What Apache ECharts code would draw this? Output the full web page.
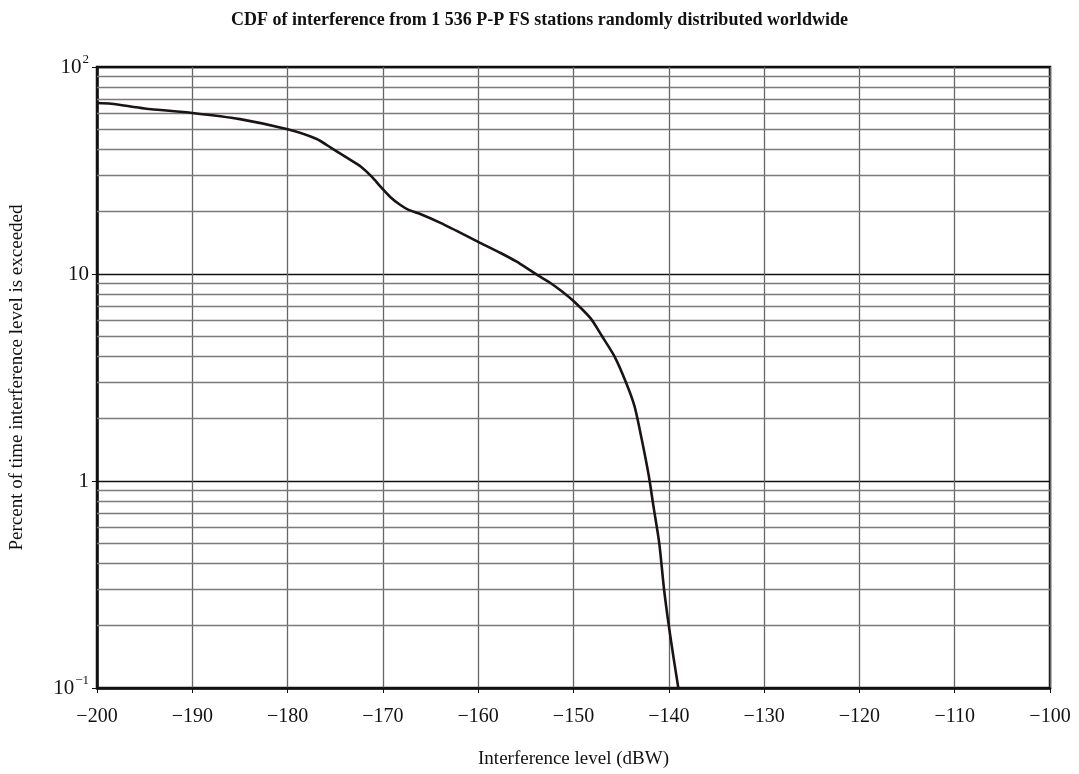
<!DOCTYPE html>
<html>
<head>
<meta charset="utf-8">
<script src="https://cdn.jsdelivr.net/npm/echarts@6/dist/echarts.min.js"></script>
<style>
  html, body { margin: 0; padding: 0; background: #fff; }
  #chart { width: 1079px; height: 774px; }
</style>
</head>
<body>
<div id="chart"></div>
<script>
// Interference level (dBW) and percent of time that level is exceeded
const levels = [-200, -198.5, -195, -190, -185, -180, -177, -175.4, -173.7, -172.3, -171.2, -170.2,
  -169.2, -168.2, -167.3, -166.2, -163.9, -160, -157.6, -156, -154.1, -152.5, -151.3, -150, -148.2, -147,
  -145.7, -144.5, -143.6, -142.9, -142.1, -141.6, -141.0, -140.5, -140, -139.5, -139];
const percent = [67, 66.5, 63, 60, 56, 50, 45, 40.6, 36.3, 33, 29.6, 26.3,
  23.5, 21.6, 20.4, 19.6, 17.6, 14.3, 12.6, 11.5, 10.1, 9.1, 8.3, 7.4, 6.1, 5.0,
  4.0, 3.0, 2.3, 1.64, 1.06, 0.75, 0.5, 0.3, 0.2, 0.14, 0.1];

// Minor grid values inside each decade (2..9 × 10^k)
const minorGrid = [0.2, 0.3, 0.4, 0.5, 0.6, 0.7, 0.8, 0.9,
  2, 3, 4, 5, 6, 7, 8, 9,
  20, 30, 40, 50, 60, 70, 80, 90];
const yTickText = { 100: '10{sup|2}', 10: '10', 1: '1', 0.1: '10{sup|−1}' };

const serif = '"Liberation Serif", "DejaVu Serif", serif';
const chart = echarts.init(document.getElementById('chart'), null, { renderer: 'canvas' });

chart.setOption({
  animation: false,
  backgroundColor: '#fff',
  title: {
    text: 'CDF of interference from 1 536 P-P FS stations randomly distributed worldwide',
    left: 'center', top: 6,
    textStyle: { fontFamily: serif, fontWeight: 'bold', fontSize: 18, color: '#111' }
  },
  grid: {
    left: 92, right: 29, top: 67, bottom: 78,
    show: true, borderColor: '#111', borderWidth: 2.5, backgroundColor: 'transparent'
  },
  xAxis: {
    type: 'value', min: -200, max: -100, interval: 10,
    name: 'Interference level (dBW)', nameLocation: 'middle', nameGap: 62,
    nameTextStyle: { fontFamily: serif, fontSize: 19, color: '#111' },
    axisLine: { show: true, lineStyle: { color: '#111', width: 2.5 } },
    axisTick: { show: true, length: 5, inside: false, lineStyle: { color: '#111', width: 1 } },
    axisLabel: {
      fontFamily: serif, fontSize: 20, color: '#111', margin: 19,
      formatter: v => (v < 0 ? '−' + Math.abs(v) : String(v))
    },
    splitLine: { show: true, lineStyle: { color: '#666', width: 1.3 } }
  },
  yAxis: {
    type: 'log', logBase: 10, min: 0.1, max: 100,
    name: 'Percent of time interference level is exceeded', nameLocation: 'middle', nameGap: 70,
    nameTextStyle: { fontFamily: serif, fontSize: 19, color: '#111' },
    axisLine: { show: true, lineStyle: { color: '#111', width: 2.5 } },
    axisTick: { show: true, length: 5, lineStyle: { color: '#111', width: 1 } },
    axisLabel: {
      fontFamily: serif, fontSize: 21, color: '#111', margin: 8,
      formatter: v => {
        const key = Math.round(v * 10) / 10;
        return yTickText[key] || String(v);
      },
      rich: {
        sup: { fontFamily: serif, fontSize: 13, color: '#111', padding: [0, 0, 14, 1] }
      }
    },
    splitLine: { show: true, lineStyle: { color: '#111', width: 1.3 } }
  },
  series: [{
    type: 'line',
    data: levels.map((x, i) => [x, percent[i]]),
    showSymbol: false,
    smooth: 0.25,
    lineStyle: { color: '#1a1414', width: 2.6 },
    markLine: {
      silent: true,
      symbol: 'none',
      label: { show: false },
      lineStyle: { color: '#7a7a7a', width: 1.3, type: 'solid' },
      data: minorGrid.map(v => ({ yAxis: v }))
    },
    z: 5
  }]
});
</script>
</body>
</html>
